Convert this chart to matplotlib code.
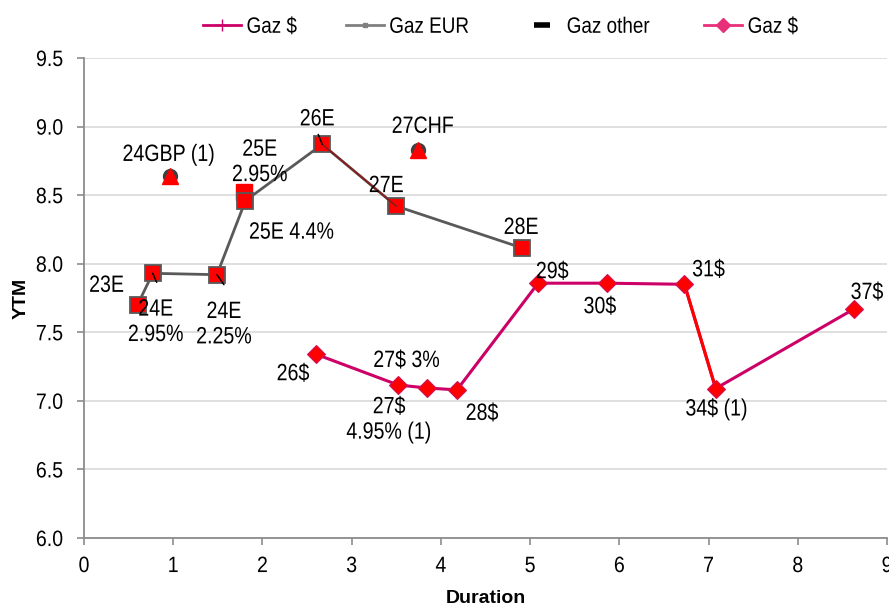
import matplotlib
matplotlib.use("Agg")
import matplotlib.pyplot as plt
from matplotlib.lines import Line2D
from matplotlib.patheffects import AbstractPathEffect
from matplotlib.transforms import Affine2D

# ---------------- data ----------------
eur_names = ["23E", "24E\n2.95%", "24E\n2.25%", "25E 4.4%", "26E", "27E", "28E"]
eur_dur = [0.60, 0.77, 1.49, 1.81, 2.67, 3.50, 4.91]
eur_ytm = [7.70, 7.93, 7.92, 8.46, 8.87, 8.42, 8.115]

eur_extra_names = ["25E\n2.95%"]
eur_extra_dur = [1.79]
eur_extra_ytm = [8.52]

other_names = ["24GBP (1)", "27CHF"]
other_dur = [0.96, 3.74]
other_ytm = [8.64, 8.83]

usd_names = ["26$", "27$\n4.95% (1)", "27$ 3%", "28$", "29$", "30$", "31$", "34$ (1)", "37$"]
usd_dur = [2.60, 3.52, 3.84, 4.18, 5.09, 5.86, 6.73, 7.08, 8.63]
usd_ytm = [7.34, 7.116, 7.094, 7.08, 7.858, 7.858, 7.85, 7.09, 7.67]

x_ticks = [0, 1, 2, 3, 4, 5, 6, 7, 8, 9]
y_ticks = [6.0, 6.5, 7.0, 7.5, 8.0, 8.5, 9.0, 9.5]
legend_labels = ["Gaz $", "Gaz EUR", "Gaz other", "Gaz $"]

# label offsets in pixels (dx, dy)
offsets = {
    "23E": (-31, 19), "24E\n2.95%": (3, -49), "24E\n2.25%": (7, -50),
    "25E 4.4%": (46, -32), "26E": (-5, 25), "27E": (-10, 20), "28E": (-1, 20),
    "25E\n2.95%": (16, 30), "24GBP (1)": (-1, 21), "27CHF": (5, 23),
    "26$": (-23, -20), "27$\n4.95% (1)": (-9, -35), "27$ 3%": (-20, 27),
    "28$": (25, -24), "29$": (14, 11), "30$": (-7, -24), "31$": (24, 14),
    "34$ (1)": (1, -21), "37$": (13, 16),
}

plt.rcParams["font.family"] = ["Liberation Sans", "DejaVu Sans"]
SZ_LAB, SZ_TICK, SZ_LEG = 17, 16, 16


class Squeeze(AbstractPathEffect):
    def __init__(self, sx=0.83, anchor="center"):
        super().__init__()
        self.sx = sx
        self.anchor = anchor

    def draw_path(self, renderer, gc, tpath, affine, rgbFace=None):
        ext = tpath.get_extents()
        if self.anchor == "center":
            cx = (ext.x0 + ext.x1) / 2
        elif self.anchor == "right":
            cx = ext.x1
        else:
            cx = ext.x0
        a = Affine2D().translate(-cx, 0).scale(self.sx, 1).translate(cx, 0) + affine
        renderer.draw_path(gc, tpath, a, rgbFace)


W, H, DPI = 889, 606, 100
fig = plt.figure(figsize=(W / DPI, H / DPI), dpi=DPI)
ax = fig.add_axes([84 / W, 1 - 538 / H, (887 - 84) / W, (538 - 58) / H])

CRIMSON = "#CC0066"
GRAY = "#595959"
RED = "#FF0000"

# grid
ax.set_axisbelow(True)
ax.yaxis.grid(True, color="#D9D9D9", lw=1.2)

# EUR series
ax.plot(eur_extra_dur, eur_extra_ytm, ls="none", marker="s", ms=12, mfc=RED, mec=RED, zorder=3)
ax.plot(eur_dur, eur_ytm, color=GRAY, lw=2, marker="s", ms=12, mfc=RED, mec=GRAY, mew=1.3, zorder=4)
ax.plot(eur_dur[4:6], eur_ytm[4:6], color="#8B1A1A", lw=1.2, zorder=4)

# other series
ax.plot(other_dur, other_ytm, ls="none", marker="o", ms=10, mfc="#404040", mec="#404040", zorder=3)
ax.plot(other_dur, other_ytm, ls="none", marker="^", ms=11, mfc=RED, mec=RED, zorder=4)

# USD series
ax.plot(usd_dur, usd_ytm, color=CRIMSON, lw=2.2, zorder=3)
ax.plot(usd_dur[6:8], usd_ytm[6:8], color=RED, lw=2.2, zorder=3)
ax.plot(usd_dur, usd_ytm, ls="none", marker="D", ms=9.5, mfc=RED, mec="#D0105A", mew=0.8, zorder=4)

# labels
def lab(names, xs, ys):
    for n, x, y in zip(names, xs, ys):
        dx, dy = offsets[n]
        ax.annotate(n, (x, y), xytext=(dx, dy), textcoords="offset pixels",
                    ha="center", va="center", fontsize=SZ_LAB, color="black",
                    linespacing=1.2, zorder=6, path_effects=[Squeeze(0.83)])

lab(eur_names, eur_dur, eur_ytm)
lab(eur_extra_names, eur_extra_dur, eur_extra_ytm)
lab(other_names, other_dur, other_ytm)
lab(usd_names, usd_dur, usd_ytm)

# leader lines
leaders = {"26E": (-4, 10), "24E\n2.95%": (4, -9), "24E\n2.25%": (7, -10)}
for n, x, y in zip(eur_names, eur_dur, eur_ytm):
    if n in leaders:
        ax.annotate("", (x, y), xytext=leaders[n], textcoords="offset pixels",
                    arrowprops=dict(arrowstyle="-", color="black", lw=1.1,
                                    shrinkA=0, shrinkB=0), zorder=7)

# axes styling
ax.set_xlim(0, 9)
ax.set_ylim(6.0, 9.5)
ax.set_xticks(x_ticks)
ax.set_yticks(y_ticks)
ax.set_yticklabels([f"{v:.1f}" for v in y_ticks])
for s in ["top", "right"]:
    ax.spines[s].set_visible(False)
for s in ["left", "bottom"]:
    ax.spines[s].set_color("#8C8C8C")
    ax.spines[s].set_linewidth(1.3)
ax.tick_params(axis="both", direction="out", length=5, width=1.2, color="#8C8C8C",
               labelsize=SZ_TICK, labelcolor="black")
ax.tick_params(axis="x", pad=8)
ax.tick_params(axis="y", pad=10)
for t in ax.get_xticklabels():
    t.set_path_effects([Squeeze(0.88, anchor="center")])
for t in ax.get_yticklabels():
    t.set_path_effects([Squeeze(0.88, anchor="right")])
ax.set_xlabel("Duration", fontsize=14, fontweight="bold", labelpad=9)
ax.set_ylabel("YTM", fontsize=14, fontweight="bold", labelpad=2)

# legend
handles = [
    Line2D([], [], color=CRIMSON, lw=2, marker="+", ms=9, mec=CRIMSON),
    Line2D([], [], color="#808080", lw=2, marker="s", ms=3, mfc="#808080", mec="#808080"),
    Line2D([], [], ls="none", marker="_", ms=12, mew=4, color="black"),
    Line2D([], [], color="#E8307A", lw=2, marker="D", ms=7, mfc="#E8307A", mec="#E8307A"),
]
leg = fig.legend(handles, legend_labels, loc="center", bbox_to_anchor=(0.568, 0.955), ncol=4,
                 frameon=False, fontsize=SZ_LEG, handlelength=1.7, handletextpad=0.25,
                 columnspacing=1.8)
for t in leg.get_texts():
    t.set_path_effects([Squeeze(0.85, anchor="left")])

fig.savefig("out.png", dpi=DPI)
